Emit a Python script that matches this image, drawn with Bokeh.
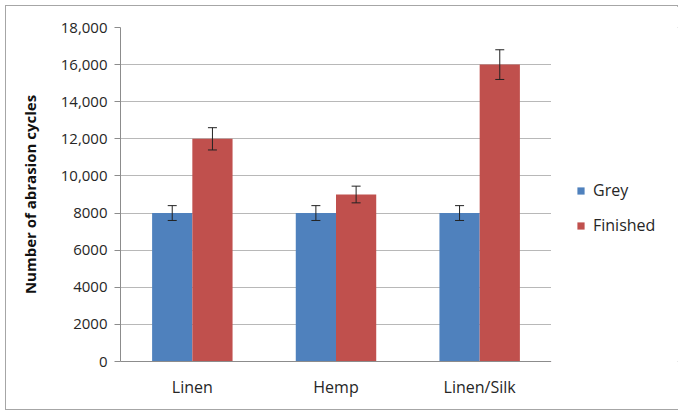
from bokeh.plotting import figure
from bokeh.layouts import row
from bokeh.models import (FactorRange, Range1d, FixedTicker, Whisker, ColumnDataSource,
                          Legend, LegendItem)
from bokeh.transform import dodge
from bokeh.embed import file_html
from bokeh.resources import INLINE

categories = ["Linen", "Hemp", "Linen/Silk"]
grey = [8000, 8000, 8000]
grey_err = [400, 400, 400]
finished = [12000, 9000, 16000]
finished_err = [600, 450, 800]
series_names = ["Grey", "Finished"]
y_ticks = [0, 2000, 4000, 6000, 8000, 10000, 12000, 14000, 16000, 18000]
y_tick_labels = ["0", "2000", "4000", "6000", "8000", "10,000", "12,000", "14,000", "16,000", "18,000"]

FONT = "Open Sans"
BLUE = "#4f81bd"
RED = "#c0504d"
TXT = "#262626"

src = ColumnDataSource(dict(
    cats=categories,
    grey=grey,
    finished=finished,
    g_up=[v + e for v, e in zip(grey, grey_err)],
    g_lo=[v - e for v, e in zip(grey, grey_err)],
    f_up=[v + e for v, e in zip(finished, finished_err)],
    f_lo=[v - e for v, e in zip(finished, finished_err)],
))

p = figure(x_range=FactorRange(*categories, range_padding=0), y_range=Range1d(0, 18000),
           width=545, height=405, output_backend="svg", toolbar_location=None,
           min_border_left=114, min_border_top=21, min_border_bottom=48, min_border_right=0)

off = 0.14
w = 0.28
rg = p.vbar(x=dodge("cats", -off, range=p.x_range), top="grey", width=w, source=src,
            fill_color=BLUE, line_color=None)
rf = p.vbar(x=dodge("cats", off, range=p.x_range), top="finished", width=w, source=src,
            fill_color=RED, line_color=None)

for key, up, lo in [(-off, "g_up", "g_lo"), (off, "f_up", "f_lo")]:
    wk = Whisker(base=dodge("cats", key, range=p.x_range), upper=up, lower=lo, source=src,
                 line_color="#222222", line_width=1, level="overlay")
    wk.upper_head.size = 9
    wk.lower_head.size = 9
    wk.upper_head.line_color = "#222222"
    wk.lower_head.line_color = "#222222"
    p.add_layout(wk)

p.yaxis.ticker = FixedTicker(ticks=y_ticks)
p.yaxis.major_label_overrides = {t: l for t, l in zip(y_ticks, y_tick_labels)}
p.yaxis.axis_label = "Number of abrasion cycles"
p.yaxis.axis_label_text_font = FONT
p.yaxis.axis_label_text_font_style = "bold"
p.yaxis.axis_label_text_font_size = "15px"
p.yaxis.axis_label_text_color = "#111111"
p.yaxis.axis_label_standoff = 18
p.yaxis.major_label_text_font = FONT
p.yaxis.major_label_text_font_size = "15px"
p.yaxis.major_label_text_color = TXT
p.yaxis.major_label_standoff = 7
p.yaxis.axis_line_color = "#8c8c8c"
p.yaxis.major_tick_line_color = "#8c8c8c"
p.yaxis.major_tick_out = 6
p.yaxis.major_tick_in = 0
p.yaxis.minor_tick_line_color = None

p.xaxis.major_label_text_font = FONT
p.xaxis.major_label_text_font_size = "16px"
p.xaxis.major_label_text_color = TXT
p.xaxis.major_label_standoff = 8
p.xaxis.axis_line_color = "#8c8c8c"
p.xaxis.major_tick_line_color = None
p.xaxis.minor_tick_line_color = None

p.xgrid.grid_line_color = None
p.ygrid.grid_line_color = "#b8b8b8"
p.ygrid.grid_line_width = 1
p.outline_line_color = None

# legend panel (separate figure so the legend is not clipped by the plot frame)
lf = figure(width=128, height=405, output_backend="svg", toolbar_location=None,
            x_range=Range1d(0, 1), y_range=Range1d(0, 1),
            min_border=0, min_border_left=0, min_border_right=0,
            min_border_top=0, min_border_bottom=0)
lf.axis.visible = False
lf.grid.visible = False
lf.outline_line_color = None
# off-screen proxies, used only for the legend swatches
lg = lf.vbar(x=[-9], top=[-9], bottom=[-10], width=0.1, fill_color=BLUE, line_color=None)
lr = lf.vbar(x=[-9], top=[-9], bottom=[-10], width=0.1, fill_color=RED, line_color=None)

legend = Legend(items=[LegendItem(label=series_names[0], renderers=[lg]),
                       LegendItem(label=series_names[1], renderers=[lr])],
                location=(25, 125), orientation="vertical")
legend.label_text_font = FONT
legend.label_text_font_size = "16px"
legend.label_text_color = TXT
legend.glyph_width = 9
legend.glyph_height = 9
legend.label_standoff = 8
legend.spacing = 13
legend.border_line_color = None
legend.background_fill_alpha = 0
legend.margin = 0
legend.padding = 4
lf.add_layout(legend)

layout = row(p, lf, spacing=0)
layout.styles = {"border": "1px solid #a6a6a6", "margin": "5px 0 0 5px",
                 "width": "673px", "height": "405px"}

open("out.html", "w").write(file_html(layout, INLINE))
